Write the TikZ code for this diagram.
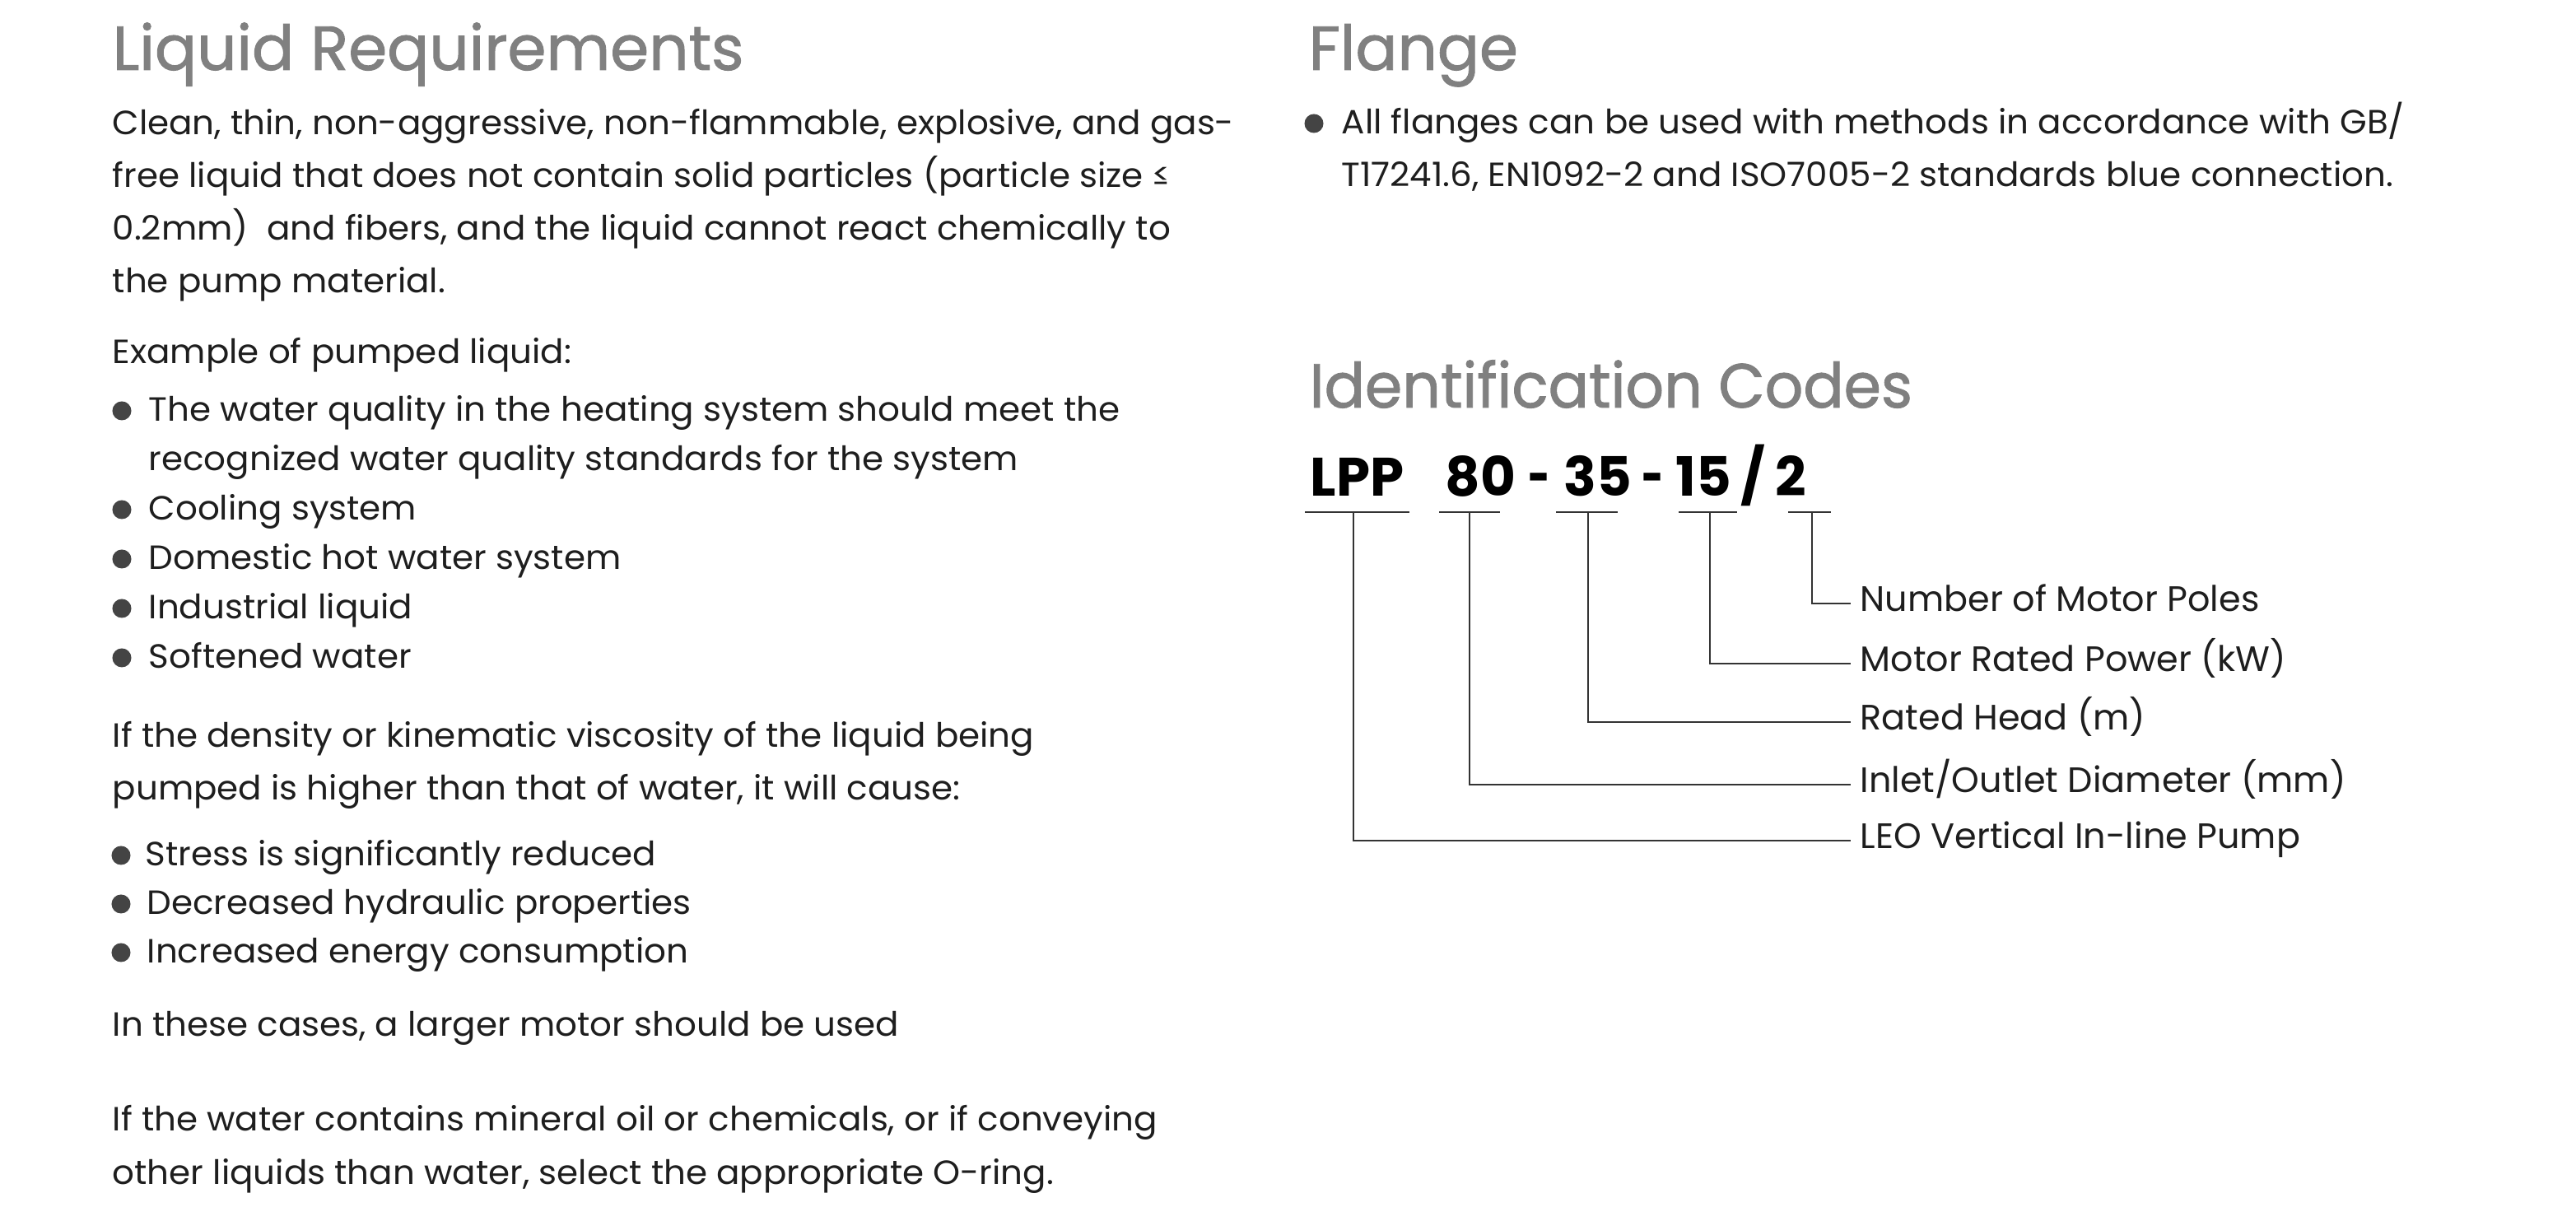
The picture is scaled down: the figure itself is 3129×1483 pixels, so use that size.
\documentclass[tikz,border=0pt]{standalone}
\usepackage{fontspec}
\setmainfont{Poppins}[FakeStretch=1.03]
\newfontfamily\plainfont{Poppins}
\newfontfamily\dashfont[FakeStretch=0.7]{Poppins}
\newfontfamily\headfont[FakeBold=1.2]{Poppins}
\newfontfamily\headnarrow[FakeBold=1.2,FakeStretch=0.965]{Poppins}
\definecolor{headgray}{HTML}{808080}
\definecolor{txtblack}{HTML}{1E1E1E}
\definecolor{dotgray}{HTML}{444444}
\definecolor{linegray}{HTML}{333333}

\begin{document}
\begin{tikzpicture}[x=0.01cm, y=-0.01cm,
    every node/.style={inner sep=0pt, anchor=base west},
    head/.style={font=\headfont\fontsize{21.5}{26}\selectfont, text=headgray},
    body/.style={font=\fontsize{11.6}{14}\selectfont, text=txtblack},
    dot/.style={circle, fill=dotgray, minimum size=0.23cm, anchor=center},
    code/.style={font=\plainfont\bfseries\fontsize{18.7}{22}\selectfont, text=black},
    codedash/.style={font=\dashfont\bfseries\fontsize{18.7}{22}\selectfont, text=black},
    lbl/.style={font=\plainfont\fontsize{12.2}{15}\selectfont, text=txtblack, anchor=mid west, inner xsep=0.11cm},
    link/.style={draw=linegray, line width=0.65pt}]

  \fill[white] (0,0) rectangle (3129,1483);
  \useasboundingbox (0,0) rectangle (3129,1483);

  % left column
  \node[head] (hLiquid) at (136,85) {Liquid Requirements};
  \node[body] (p1) at (136,164) {Clean, thin, non-aggressive, non-flammable, explosive, and gas-};
  \node[body] (p2) at (136,228) {free liquid that does not contain solid particles (particle size ≤};
  \node[body] (p3) at (136,292) {0.2mm)\ \ and fibers, and the liquid cannot react chemically to};
  \node[body] (p4) at (136,356) {the pump material.};
  \node[body] (ex) at (136,442) {Example of pumped liquid:};

  \node[dot] (d1) at (148,499) {};
  \node[body] (b1) at (180,512) {The water quality in the heating system should meet the};
  \node[body] (b1b) at (180,572) {recognized water quality standards for the system};
  \node[dot] (d2) at (148,619) {};
  \node[body] (b2) at (180,632) {Cooling system};
  \node[dot] (d3) at (148,679) {};
  \node[body] (b3) at (180,692) {Domestic hot water system};
  \node[dot] (d4) at (148,739) {};
  \node[body] (b4) at (180,752) {Industrial liquid};
  \node[dot] (d5) at (148,799) {};
  \node[body] (b5) at (180,812) {Softened water};

  \node[body] (q1) at (136,908) {If the density or kinematic viscosity of the liquid being};
  \node[body] (q2) at (136,972) {pumped is higher than that of water, it will cause:};

  \node[dot] (e1) at (147,1039) {};
  \node[body] (c1) at (176,1052) {Stress is significantly reduced};
  \node[dot] (e2) at (147,1098) {};
  \node[body] (c2) at (178,1111) {Decreased hydraulic properties};
  \node[dot] (e3) at (147,1157) {};
  \node[body] (c3) at (178,1170) {Increased energy consumption};

  \node[body] (r1) at (136,1259) {In these cases, a larger motor should be used};
  \node[body] (s1) at (136,1374) {If the water contains mineral oil or chemicals, or if conveying};
  \node[body] (s2) at (136,1439) {other liquids than water, select the appropriate O-ring.};

  % flange
  \node[head] (hFlange) at (1589,85) {Flange};
  \node[dot] (f0) at (1596,150) {};
  \node[body] (f1) at (1629,163) {All flanges can be used with methods in accordance with GB/};
  \node[body] (f2) at (1629,227) {T17241.6, EN1092-2 and ISO7005-2 standards blue connection.};

  % identification codes
  \node[head, font=\headnarrow\fontsize{21.5}{26}\selectfont] (hCodes) at (1590,495) {Identification Codes};
  \node[code] (cLPP) at (1591,603) {LPP};
  \node[code] (c80) at (1755,603) {80};
  \node[codedash] (cdashA) at (1856,603) {-};
  \node[code] (c35) at (1899,603) {35};
  \node[codedash] (cdashB) at (1994,603) {-};
  \node[code] (c15) at (2035,603) {15};
  \node[code] (cslash) at (2114,603) {/};
  \node[code] (c2) at (2156,603) {2};

  \coordinate (tLPP) at (1644,622);
  \coordinate (t80) at (1785,622);
  \coordinate (t35) at (1929,622);
  \coordinate (t15) at (2077,622);
  \coordinate (t2) at (2201,622);

  \node[lbl] (lPoles) at (2248,733) {Number of Motor Poles};
  \node[lbl] (lPower) at (2248,806) {Motor Rated Power (kW)};
  \node[lbl] (lHead) at (2248,877) {Rated Head (m)};
  \node[lbl] (lDiam) at (2248,953) {Inlet/Outlet Diameter (mm)};
  \node[lbl] (lType) at (2248,1021) {LEO Vertical In-line Pump};

  % underlines
  \draw[link] (tLPP) ++(-59,0) -- ++(127,0);
  \draw[link] (t80) ++(-37,0) -- ++(74,0);
  \draw[link] (t35) ++(-39,0) -- ++(75,0);
  \draw[link] (t15) ++(-38,0) -- ++(71,0);
  \draw[link] (t2) ++(-29,0) -- ++(52,0);

  % leaders
  \draw[link] (t2) |- (lPoles.mid west);
  \draw[link] (t15) |- (lPower.mid west);
  \draw[link] (t35) |- (lHead.mid west);
  \draw[link] (t80) |- (lDiam.mid west);
  \draw[link] (tLPP) |- (lType.mid west);
\end{tikzpicture}
\end{document}
